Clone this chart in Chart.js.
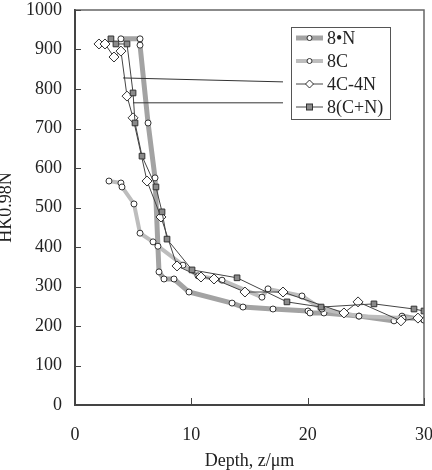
<!DOCTYPE html>
<html><head><meta charset="utf-8">
<script src="https://cdn.jsdelivr.net/npm/chart.js@4"></script>
<style>html,body{margin:0;padding:0;background:#fff}#wrap{width:432px;height:470px}</style>
</head><body><div id="wrap"><canvas id="c" width="432" height="470"></canvas></div>
<script>
const seriesLabels = ['8\u2022N', '8C', '4C-4N', '8(C+N)'];
const xTicks = [0, 10, 20, 30];
const yTicks = [0,100,200,300,400,500,600,700,800,900,1000];

const n8x = [3.95,5.59,5.59,6.28,6.88,7.22,7.65,8.51,9.80,13.50,14.44,17.02,20.03,20.20,21.40,24.41,27.42,28.11,30.0];
const n8y = [927,927,911,714,575,337,319,319,286,258,248,243,238,233,233,225,213,225,215];

const c8x = [2.92,3.95,4.04,5.07,5.59,6.71,7.13,9.28,10.57,12.64,16.07,16.59,19.51,21.23,24.41,28.2,30.0];
const c8y = [567,562,552,509,435,413,402,354,327,316,273,294,276,243,225,220,215];

const c4n4x = [2.06,2.58,3.35,3.95,4.47,4.99,6.19,7.39,8.77,10.83,11.95,14.61,17.88,23.12,24.33,28.02,29.48];
const c4n4y = [914,914,881,896,782,727,567,476,352,324,319,286,286,233,261,213,220];

const cnx = [3.09,3.52,4.47,4.99,5.16,5.76,6.96,7.48,7.91,10.06,13.93,18.22,21.15,25.70,29.14,30.0];
const cny = [927,914,914,790,714,630,552,489,420,342,322,261,248,256,243,238];

const lead1x = [4.13,17.88], lead1y = [828,818];
const lead2x = [4.99,17.88], lead2y = [765,765];

const pts = (xs, ys) => xs.map((x,i)=>({x, y: ys[i]}));
const SERIF = '"Liberation Serif", "DejaVu Serif", serif';

const styles = [
  {borderColor:'#a3a3a3', borderWidth:5, pointStyle:'circle', pointRadius:3, pointBackgroundColor:'#fff', pointBorderColor:'#333', order:3},
  {borderColor:'#bdbdbd', borderWidth:4, pointStyle:'circle', pointRadius:3, pointBackgroundColor:'#fff', pointBorderColor:'#333', order:2},
  {borderColor:'#444', borderWidth:1, pointStyle:'rectRot', pointRadius:5, pointBackgroundColor:'#fff', pointBorderColor:'#333', order:1},
  {borderColor:'#444', borderWidth:1, pointStyle:'rect', pointRadius:4, pointBackgroundColor:'#8a8a8a', pointBorderColor:'#333', order:0}
];
const seriesData = [pts(n8x,n8y), pts(c8x,c8y), pts(c4n4x,c4n4y), pts(cnx,cny)];

const datasets = seriesData.map((d,i)=>Object.assign({label: seriesLabels[i], data: d, pointBorderWidth:1, tension:0, fill:false}, styles[i]));
[pts(lead1x,lead1y), pts(lead2x,lead2y)].forEach(d=>datasets.push({label:'', data:d, borderColor:'#333', borderWidth:1, pointRadius:0, order:-1}));

const decor = {
  id:'decor',
  afterDraw(chart){
    const ctx = chart.ctx, a = chart.chartArea, xs = chart.scales.x, ys = chart.scales.y;
    ctx.save();
    ctx.strokeStyle = '#666'; ctx.lineWidth = 1.5;
    ctx.beginPath(); ctx.moveTo(a.left, a.top); ctx.lineTo(a.right, a.top); ctx.lineTo(a.right, a.bottom); ctx.stroke();
    ctx.strokeStyle = '#444'; ctx.lineWidth = 1;
    ctx.beginPath();
    yTicks.forEach(v=>{const p = Math.round(ys.getPixelForValue(v))+0.5; ctx.moveTo(a.left, p); ctx.lineTo(a.left+6, p);});
    xTicks.forEach(v=>{const p = Math.round(xs.getPixelForValue(v))+0.5; ctx.moveTo(p, a.bottom); ctx.lineTo(p, a.bottom-7);});
    ctx.stroke();
    const bx = 291, by = 27, bw = 99, bh = 92;
    ctx.fillStyle = '#fff'; ctx.fillRect(bx, by, bw, bh);
    ctx.strokeStyle = '#555'; ctx.lineWidth = 1; ctx.strokeRect(bx+0.5, by+0.5, bw, bh);
    const rows = [38, 61, 84, 107];
    ctx.font = '18px ' + SERIF; ctx.textBaseline = 'middle'; ctx.textAlign = 'left';
    for (let i=0;i<4;i++){
      const s = styles[i], y = rows[i];
      ctx.strokeStyle = s.borderColor; ctx.lineWidth = s.borderWidth;
      ctx.beginPath(); ctx.moveTo(296, y); ctx.lineTo(323, y); ctx.stroke();
      ctx.fillStyle = s.pointBackgroundColor; ctx.strokeStyle = s.pointBorderColor; ctx.lineWidth = 1;
      if (s.pointStyle === 'circle'){ ctx.beginPath(); ctx.arc(309.5, y, 2.5, 0, Math.PI*2); ctx.fill(); ctx.stroke(); }
      else if (s.pointStyle === 'rectRot'){ ctx.beginPath(); ctx.moveTo(309.5, y-4); ctx.lineTo(313.5,y); ctx.lineTo(309.5,y+4); ctx.lineTo(305.5,y); ctx.closePath(); ctx.fill(); ctx.stroke(); }
      else { ctx.fillRect(306.5, y-3, 6, 6); ctx.strokeRect(306.5, y-3, 6, 6); }
      ctx.fillStyle = '#222';
      ctx.fillText(seriesLabels[i], 327, y+1);
    }
    ctx.restore();
  }
};

new Chart(document.getElementById('c'), {
  type:'line',
  data:{datasets},
  options:{
    responsive:false, animation:false, devicePixelRatio:1,
    layout:{padding:{top:10, right:8, left:0, bottom:0}},
    plugins:{legend:{display:false}, tooltip:{enabled:false}},
    scales:{
      x:{type:'linear', min:0, max:30,
        afterBuildTicks(s){ s.ticks = xTicks.map(v=>({value:v})); },
        afterFit(s){ s.height = 65; s.paddingLeft = 0; s.paddingRight = 0; },
        grid:{display:false, drawTicks:false},
        border:{display:true, color:'#444', width:2},
        ticks:{padding:19, color:'#222', font:{family:SERIF, size:18}, maxRotation:0, autoSkip:false, callback:v=>String(v)},
        title:{display:true, text:'Depth, z/\u03bcm', color:'#222', font:{family:SERIF, size:18, lineHeight:1}, padding:{top:0,bottom:0}}
      },
      y:{type:'linear', min:0, max:1000,
        afterBuildTicks(s){ s.ticks = yTicks.map(v=>({value:v})); },
        afterFit(s){ s.width = 75; s.paddingTop = 0; s.paddingBottom = 0; },
        grid:{display:false, drawTicks:false},
        border:{display:true, color:'#444', width:2},
        ticks:{padding:13, color:'#222', font:{family:SERIF, size:18}, autoSkip:false, callback:v=>String(v)},
        title:{display:true, text:'HK0.98N', color:'#222', font:{family:SERIF, size:18, lineHeight:1}, padding:{top:-3,bottom:0}}
      }
    }
  },
  plugins:[decor]
});
</script></body></html>
